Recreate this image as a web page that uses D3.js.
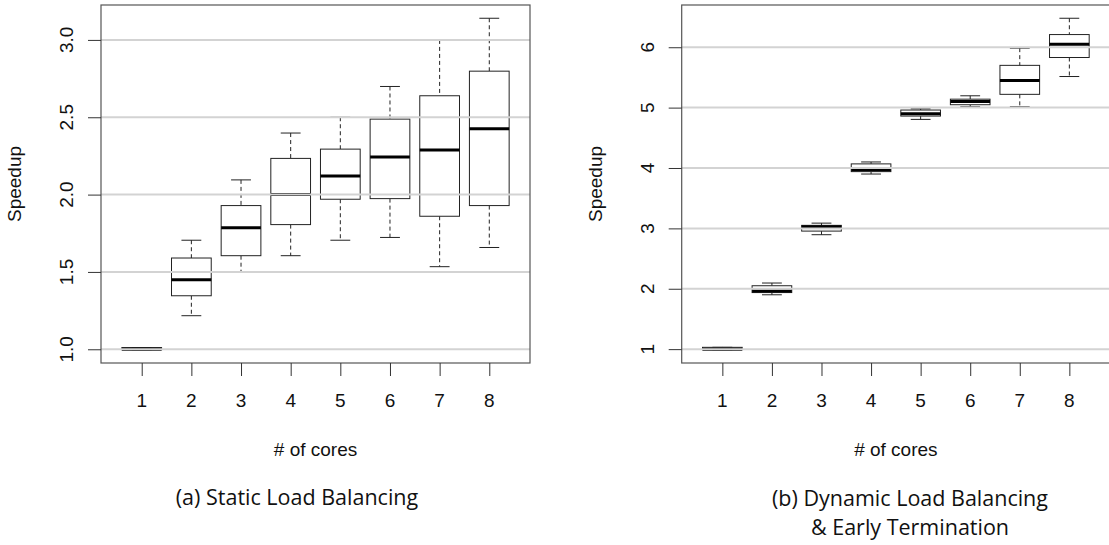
<!DOCTYPE html>
<html>
<head>
<meta charset="utf-8">
<script src="https://cdn.jsdelivr.net/npm/d3@7"></script>
<style>
  body { margin: 0; background: #fff; }
  svg { display: block; }
  .tick-label, .axis-title { font-family: "Liberation Sans", Arial, sans-serif; fill: #111; }
  .caption { font-family: "Open Sans", "Noto Sans", sans-serif; fill: #111; }
</style>
</head>
<body>
<svg id="chart" width="1109" height="545"></svg>
<script>
// categories
const cores = [1, 2, 3, 4, 5, 6, 7, 8];

// (a) static load balancing: whisker low, q1, median, q3, whisker high
const staticLow  = [0.997, 1.217, 1.500, 1.605, 1.705, 1.723, 1.534, 1.658];
const staticQ1   = [0.997, 1.346, 1.605, 1.806, 1.970, 1.974, 1.860, 1.929];
const staticMed  = [1.000, 1.450, 1.785, 2.000, 2.120, 2.243, 2.288, 2.426];
const staticQ3   = [1.011, 1.590, 1.929, 2.234, 2.294, 2.488, 2.639, 2.798];
const staticHigh = [1.011, 1.705, 2.095, 2.398, 2.500, 2.699, 3.000, 3.140];

// (b) dynamic load balancing & early termination
const dynLow  = [0.990, 1.900, 2.895, 3.900, 4.805, 5.015, 5.015, 5.515];
const dynQ1   = [0.990, 1.937, 2.955, 3.940, 4.860, 5.048, 5.220, 5.830];
const dynMed  = [1.000, 1.963, 3.025, 3.970, 4.900, 5.100, 5.450, 6.050];
const dynQ3   = [1.030, 2.050, 3.050, 4.068, 4.960, 5.140, 5.700, 6.210];
const dynHigh = [1.030, 2.095, 3.087, 4.100, 4.980, 5.196, 5.985, 6.480];

// tick labels
const staticTicks = [1.0, 1.5, 2.0, 2.5, 3.0];
const dynTicks = [1, 2, 3, 4, 5, 6];

const svg = d3.select("#chart");

function drawPanel(opts) {
  const { left, right, top, bottom, low, q1, med, q3, high, ticks, tickFmt, caption } = opts;

  // R style limits: data range padded by 4%
  const yMin = d3.min(low), yMax = d3.max(high);
  const yPad = (yMax - yMin) * 0.04;
  const y = d3.scaleLinear().domain([yMin - yPad, yMax + yPad]).range([bottom, top]);
  const x = d3.scaleLinear().domain([0.5 - 0.32, 8.5 + 0.32]).range([left, right]);
  const boxW = x(1.8) - x(1);   // boxwex 0.8
  const capW = boxW / 2;

  const g = svg.append("g");
  const rows = cores.map((c, i) => ({ c, low: low[i], q1: q1[i], med: med[i], q3: q3[i], high: high[i] }));

  // whiskers (dashed)
  const wh = g.selectAll(".whisker").data(rows).enter();
  wh.append("line")
    .attr("x1", d => x(d.c)).attr("x2", d => x(d.c))
    .attr("y1", d => y(d.high)).attr("y2", d => y(d.q3))
    .style("stroke", "#222").style("stroke-dasharray", "4 3").style("stroke-width", 1);
  wh.append("line")
    .attr("x1", d => x(d.c)).attr("x2", d => x(d.c))
    .attr("y1", d => y(d.q1)).attr("y2", d => y(d.low))
    .style("stroke", "#222").style("stroke-dasharray", "4 3").style("stroke-width", 1);

  // whisker caps
  ["low", "high"].forEach(k => {
    g.selectAll(".cap-" + k).data(rows).enter().append("line")
      .attr("x1", d => x(d.c) - capW / 2).attr("x2", d => x(d.c) + capW / 2)
      .attr("y1", d => y(d[k])).attr("y2", d => y(d[k]))
      .style("stroke", "#222").style("stroke-width", 1);
  });

  // boxes
  g.selectAll(".box").data(rows).enter().append("rect")
    .attr("x", d => x(d.c) - boxW / 2)
    .attr("width", boxW)
    .attr("y", d => y(d.q3))
    .attr("height", d => Math.max(0.5, y(d.q1) - y(d.q3)))
    .style("fill", "white").style("stroke", "#222").style("stroke-width", 1);

  // medians
  g.selectAll(".median").data(rows).enter().append("line")
    .attr("x1", d => x(d.c) - boxW / 2).attr("x2", d => x(d.c) + boxW / 2)
    .attr("y1", d => y(d.med)).attr("y2", d => y(d.med))
    .style("stroke", "black").style("stroke-width", 3);

  // grid lines on top, like abline()
  g.selectAll(".grid").data(ticks).enter().append("line")
    .attr("x1", left).attr("x2", right)
    .attr("y1", d => y(d)).attr("y2", d => y(d))
    .style("stroke", "#d3d3d3").style("stroke-width", 2);

  // frame
  g.append("rect")
    .attr("x", left).attr("y", top)
    .attr("width", right - left).attr("height", bottom - top)
    .style("fill", "none").style("stroke", "#555").style("stroke-width", 1.2);

  // y axis
  const yAxis = d3.axisLeft(y).tickValues(ticks).tickSize(13).tickPadding(0).tickFormat(tickFmt);
  const ya = g.append("g").attr("transform", `translate(${left},0)`).call(yAxis);
  ya.select(".domain").remove();
  ya.selectAll("line").style("stroke", "#333");
  ya.selectAll("text").remove();
  g.selectAll(".ylab").data(ticks).enter().append("text")
    .attr("class", "tick-label")
    .attr("transform", d => `translate(${left - 28},${y(d)}) rotate(-90)`)
    .attr("text-anchor", "middle")
    .style("font-size", "19px")
    .text(tickFmt);

  // x axis
  const xAxis = d3.axisBottom(x).tickValues(cores).tickSize(13).tickPadding(0).tickFormat(d3.format("d"));
  const xa = g.append("g").attr("transform", `translate(0,${bottom})`).call(xAxis);
  xa.select(".domain").remove();
  xa.selectAll("line").style("stroke", "#333");
  xa.selectAll("text").remove();
  g.selectAll(".xlab").data(cores).enter().append("text")
    .attr("class", "tick-label")
    .attr("x", d => x(d)).attr("y", 407)
    .attr("text-anchor", "middle")
    .style("font-size", "19px")
    .text(d => d);

  // axis titles
  g.append("text").attr("class", "axis-title")
    .attr("transform", `translate(${left - 80},${(top + bottom) / 2}) rotate(-90)`)
    .attr("text-anchor", "middle")
    .style("font-size", "19px")
    .text("Speedup");
  g.append("text").attr("class", "axis-title")
    .attr("x", (left + right) / 2).attr("y", 456)
    .attr("text-anchor", "middle")
    .style("font-size", "19px")
    .text("# of cores");

  // caption
  caption.lines.forEach((t, i) => {
    g.append("text").attr("class", "caption")
      .attr("x", caption.x).attr("y", caption.y + i * 29)
      .attr("text-anchor", "middle")
      .style("font-size", "21.5px")
      .text(t);
  });
}

drawPanel({
  left: 101, right: 530, top: 5, bottom: 363,
  low: staticLow, q1: staticQ1, med: staticMed, q3: staticQ3, high: staticHigh,
  ticks: staticTicks, tickFmt: d3.format(".1f"),
  caption: { x: 297, y: 505, lines: ["(a) Static Load Balancing"] }
});

drawPanel({
  left: 681.7, right: 1110, top: 5, bottom: 363,
  low: dynLow, q1: dynQ1, med: dynMed, q3: dynQ3, high: dynHigh,
  ticks: dynTicks, tickFmt: d3.format("d"),
  caption: { x: 910, y: 506, lines: ["(b) Dynamic Load Balancing", "& Early Termination"] }
});
</script>
</body>
</html>
